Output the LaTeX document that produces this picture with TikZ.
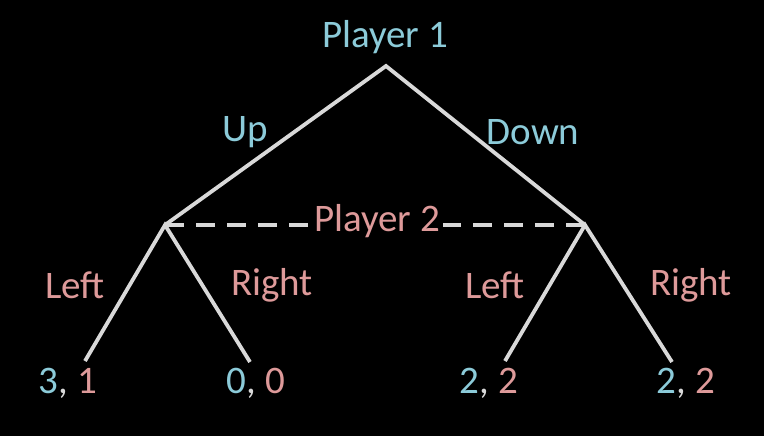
\documentclass[tikz,border=0pt]{standalone}
\usepackage{fontspec}
\setmainfont{Carlito}
\definecolor{pone}{HTML}{8CCBD9}
\definecolor{ptwo}{HTML}{DE9A9A}
\definecolor{edge}{HTML}{D9D9D9}
\begin{document}
\begin{tikzpicture}[x=1pt,y=-1pt,
  branch/.style={draw=edge,line width=3.8pt},
  infoset/.style={draw=edge,line width=3.5pt,dash pattern=on 19pt off 12pt},
  lbl/.style={font=\fontsize{39}{42}\selectfont,inner sep=1pt},
  oneText/.style={lbl,text=pone},
  twoText/.style={lbl,text=ptwo}]
\fill[black] (0,0) rectangle (764,436);
\useasboundingbox (0,0) rectangle (764,436);
% decision points
\coordinate (root) at (386,66);
\coordinate (L) at (165,225);
\coordinate (R) at (585,225);
\coordinate (LL) at (85,361);
\coordinate (LR) at (250,362);
\coordinate (RL) at (505,361);
\coordinate (RR) at (672,362);
% labels
\node[oneText] (p1) at (385,37) {Player 1};
\node[twoText,inner xsep=3pt] (p2) at (377,221) {Player 2};
\draw[infoset] (L) -- (L -| p2.west);
\draw[infoset] (R) -- (R -| p2.east);
\draw[branch,line join=miter] (L) -- (root) -- (R);
\draw[branch] (LL) -- (L) -- (LR);
\draw[branch] (RL) -- (R) -- (RR);
\node[oneText] (up) at (245,132) {Up};
\node[oneText] (down) at (533,132) {Down};
\node[twoText] (l1) at (75,285) {Left};
\node[twoText] (r1) at (272,285) {Right};
\node[twoText] (l2) at (495,285) {Left};
\node[twoText] (r2) at (691,285) {Right};
\node[lbl] (o1) at (68,383) {\textcolor{pone}{3}\textcolor{edge}{,} \textcolor{ptwo}{1}};
\node[lbl] (o2) at (256,383) {\textcolor{pone}{0}\textcolor{edge}{,} \textcolor{ptwo}{0}};
\node[lbl] (o3) at (489,383) {\textcolor{pone}{2}\textcolor{edge}{,} \textcolor{ptwo}{2}};
\node[lbl] (o4) at (686,383) {\textcolor{pone}{2}\textcolor{edge}{,} \textcolor{ptwo}{2}};
\end{tikzpicture}
\end{document}
